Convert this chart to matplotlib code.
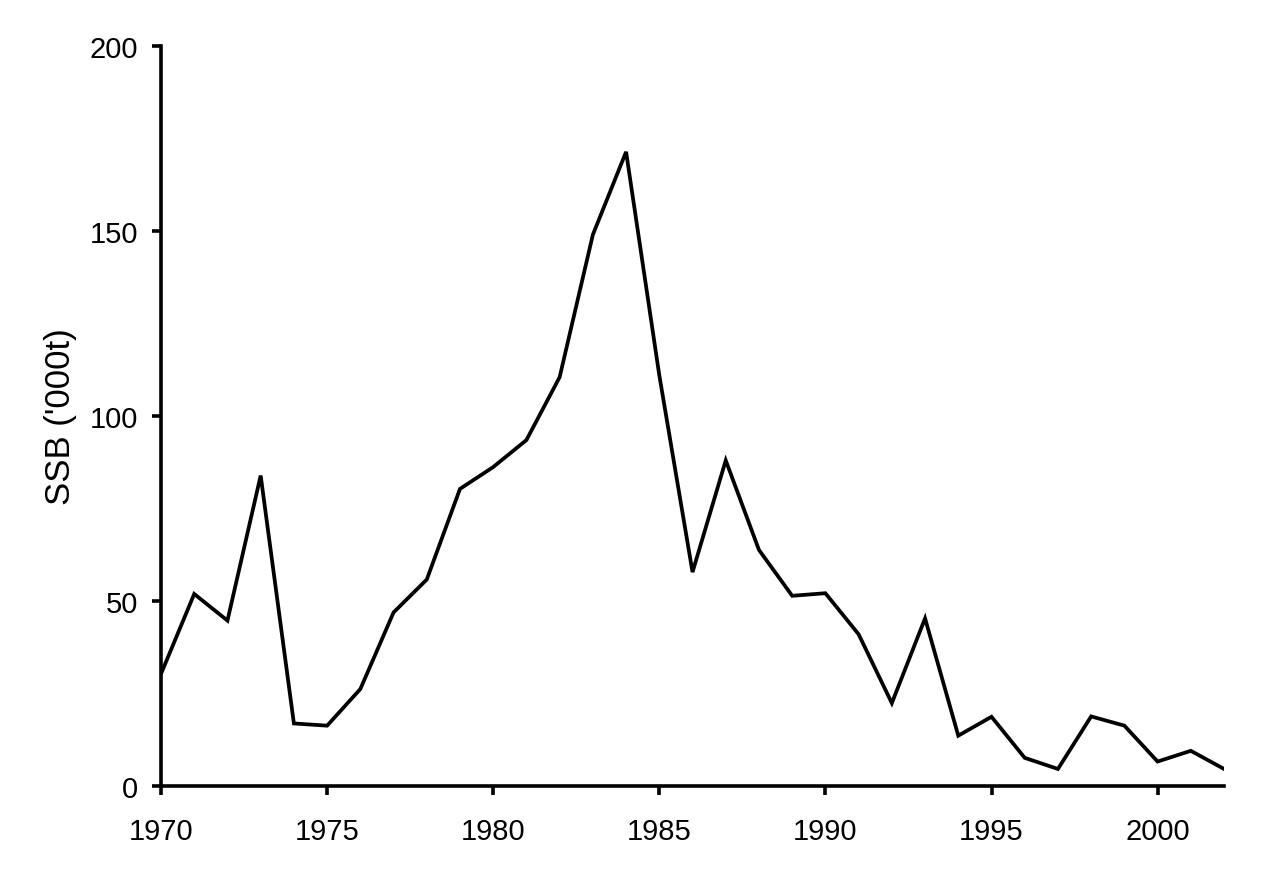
import matplotlib
matplotlib.use('Agg')
import matplotlib.pyplot as plt

# SSB time series
years = list(range(1970, 2003))
ssb = [30.3, 51.9, 44.7, 83.9, 16.9, 16.3, 26.2, 46.9, 55.8, 80.3,
       86.2, 93.5, 110.5, 149.0, 171.4, 111.0, 57.8, 88.0, 63.8, 51.4,
       52.1, 41.0, 22.4, 45.3, 13.6, 18.7, 7.6, 4.6, 18.8, 16.3,
       6.6, 9.5, 4.6]

x_ticks = [1970, 1975, 1980, 1985, 1990, 1995, 2000]
y_ticks = [0, 50, 100, 150, 200]

plt.rcParams['font.family'] = ['Liberation Sans', 'DejaVu Sans']

fig = plt.figure(figsize=(12.84, 8.79), dpi=100)
ax = fig.add_axes([0.1254, 0.1047, 0.9533 - 0.1254, 0.9465 - 0.1047])

ax.plot(years, ssb, color='black', linewidth=2.7, solid_joinstyle='miter')

ax.set_xlim(1970, 2002)
ax.set_ylim(0, 200)
ax.set_xticks(x_ticks)
ax.set_yticks(y_ticks)
ax.set_ylabel("SSB ('000t)", fontsize=25, labelpad=9)

for side in ['top', 'right']:
    ax.spines[side].set_visible(False)
for side in ['left', 'bottom']:
    ax.spines[side].set_linewidth(2.6)
    ax.spines[side].set_color('black')

ax.tick_params(axis='both', direction='out', length=6.5, width=2.6,
               labelsize=21, colors='black')
ax.tick_params(axis='x', pad=16)
ax.tick_params(axis='y', pad=10)

fig.savefig('out.png', dpi=100)
